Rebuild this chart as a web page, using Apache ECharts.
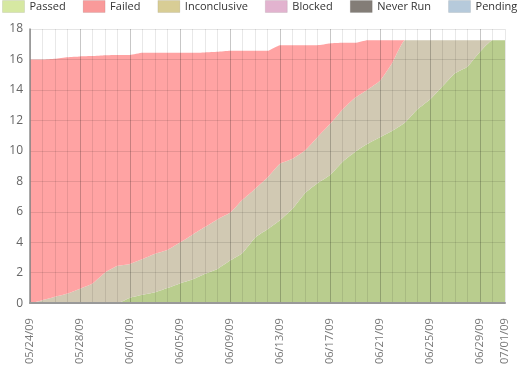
<!DOCTYPE html>
<html>
<head>
<meta charset="utf-8">
<script src="https://cdn.jsdelivr.net/npm/echarts@6/dist/echarts.min.js"></script>
<style>html,body{margin:0;padding:0;background:#fff}#c{width:524px;height:367px}</style>
</head>
<body>
<div id="c"></div>
<script>
const dates = ['05/24/09','05/25/09','05/26/09','05/27/09','05/28/09','05/29/09','05/30/09','05/31/09','06/01/09','06/02/09','06/03/09','06/04/09','06/05/09','06/06/09','06/07/09','06/08/09','06/09/09','06/10/09','06/11/09','06/12/09','06/13/09','06/14/09','06/15/09','06/16/09','06/17/09','06/18/09','06/19/09','06/20/09','06/21/09','06/22/09','06/23/09','06/24/09','06/25/09','06/26/09','06/27/09','06/28/09','06/29/09','06/30/09','07/01/09'];
const passed = [0,0,0,0,0,0,0,0,0.35,0.55,0.72,1.0,1.3,1.55,1.93,2.25,2.8,3.3,4.3,4.85,5.45,6.2,7.22,7.87,8.41,9.27,9.92,10.46,10.9,11.32,11.86,12.73,13.37,14.24,15.1,15.53,16.5,17.26,17.26];
const inconclusive = [0,0.2,0.42,0.63,0.95,1.3,2.0,2.45,2.23,2.35,2.53,2.5,2.68,2.95,3.07,3.25,3.13,3.49,3.2,3.4,3.71,3.29,2.81,3.03,3.35,3.43,3.56,3.56,3.7,4.48,5.4,4.53,3.89,3.02,2.16,1.73,0.76,0,0];
const failed = [16.0,15.8,15.63,15.52,15.25,14.92,14.28,13.85,13.72,13.54,13.19,12.94,12.46,11.94,11.46,11.0,10.64,9.78,9.07,8.32,7.78,7.45,6.91,6.04,5.29,4.39,3.61,3.24,2.66,1.46,0,0,0,0,0,0,0,0,0];
const legendNames = ['Passed','Failed','Inconclusive','Blocked','Never Run','Pending'];
const legendColors = ['#d6e8a2','#f99a9a','#d8cd95','#e2b3cf','#837d77','#b6cadb'];
const areaColors = {Passed:'#b9cd8e', Inconclusive:'#d1c9b3', Failed:'#ffa3a3'};
const yTicks = {min:0, max:18, step:2};
const labelEvery = 4;

const font = '"Open Sans", sans-serif';

function areaSeries(name, arr) {
  return {
    name, type: 'line', stack: 'total', data: arr,
    showSymbol: false, symbol: 'none', smooth: 0.15,
    lineStyle: {width: 0}, itemStyle: {color: areaColors[name]},
    areaStyle: {color: areaColors[name], opacity: 1}, z: 2
  };
}
function emptySeries(name) {
  return {name, type: 'line', data: [], showSymbol: false, lineStyle: {width: 0}};
}

const chart = echarts.init(document.getElementById('c'), null, {renderer: 'canvas'});
chart.setOption({
  animation: false,
  legend: {
    left: 2, top: 0, padding: 0, itemWidth: 22, itemHeight: 12, itemGap: 17, icon: 'rect',
    textStyle: {fontFamily: font, fontSize: 11, color: '#333'},
    data: legendNames.map((n, i) => ({name: n, itemStyle: {color: legendColors[i], borderColor: 'rgba(0,0,0,0.08)', borderWidth: 1}}))
  },
  grid: {left: 30, right: 19, top: 29, bottom: 61, containLabel: false},
  xAxis: {
    type: 'category', data: dates, boundaryGap: false, z: 3,
    axisLine: {show: true, lineStyle: {color: '#999', width: 2}},
    axisTick: {show: false},
    axisLabel: {
      rotate: 90, margin: 15, fontFamily: font, fontSize: 11, color: '#777',
      interval: (i) => i % labelEvery === 0 || i === dates.length - 1
    },
    splitLine: {show: true, interval: 0, lineStyle: {width: 1, color: ['rgba(0,0,0,0.22)','rgba(0,0,0,0.09)','rgba(0,0,0,0.09)','rgba(0,0,0,0.09)']}}
  },
  yAxis: {
    type: 'value', min: yTicks.min, max: yTicks.max, interval: yTicks.step, z: 3,
    axisLine: {show: true, lineStyle: {color: '#8c8c8c', width: 1.5}},
    axisTick: {show: false},
    axisLabel: {margin: 7, fontFamily: font, fontSize: 12, color: '#666'},
    splitLine: {show: true, lineStyle: {color: 'rgba(0,0,0,0.1)', width: 1}}
  },
  series: [
    areaSeries('Passed', passed),
    areaSeries('Inconclusive', inconclusive),
    areaSeries('Failed', failed),
    emptySeries('Blocked'), emptySeries('Never Run'), emptySeries('Pending')
  ]
});
</script>
</body>
</html>
